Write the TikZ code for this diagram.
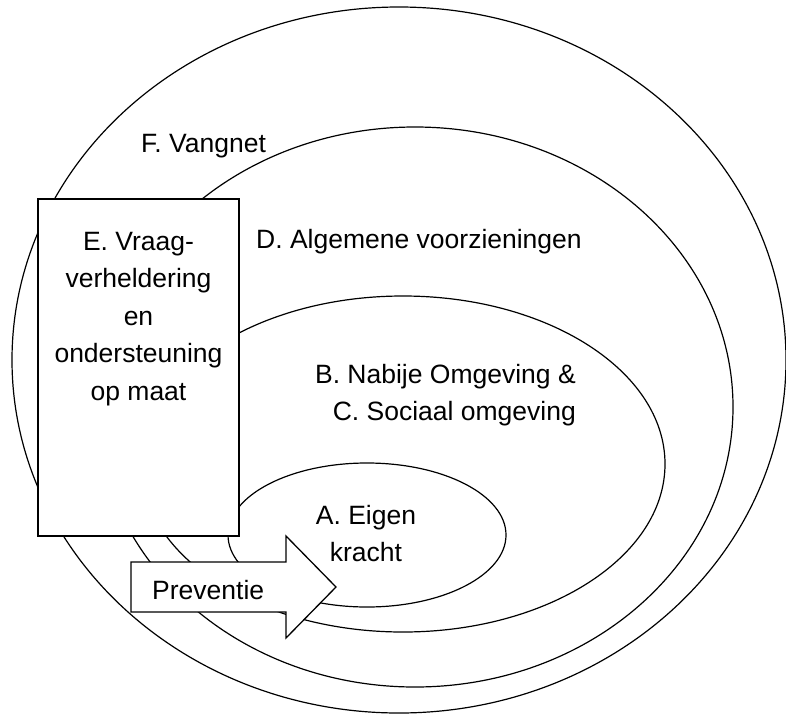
\documentclass[tikz,border=0pt]{standalone}
\usepackage{fontspec}
\setmainfont{Liberation Sans}

\begin{document}
\begin{tikzpicture}[x=1pt,y=-1pt,
  ring/.style={line width=1.2pt},
  lbl/.style={inner sep=0pt,font=\fontsize{26.5}{37.5}\selectfont}]

\useasboundingbox (0,0) rectangle (786,715);

\draw [ring] (399,360) ellipse [x radius=387pt, y radius=353pt];
\draw [ring] (415,407) ellipse [x radius=318pt, y radius=280pt];
\draw [ring] (403,464) ellipse [x radius=262pt, y radius=168pt];
\draw [ring] (367,535) ellipse [x radius=139pt, y radius=72pt];

\draw [line width=1.8pt, fill=white] (38,199) rectangle (239,536);
\draw [line width=1.3pt, fill=white] (131,562) -- (286,562) -- (286,536) -- (336,587)
  -- (286,638) -- (286,612) -- (131,612) -- cycle;

\node (vangnet) at (141,152) [lbl, anchor=base west] {F. Vangnet};
\node (algemeen) at (256,248) [lbl, anchor=base west] {D. Algemene voorzieningen};
\node (nabij) at (576,364) [lbl, anchor=north east, align=right] {B. Nabije Omgeving \&\\C. Sociaal omgeving};
\node (eigen) at (366,505) [lbl, anchor=north, align=center] {A. Eigen\\kracht};
\node (vraag) at (138.5,232) [lbl, anchor=north, align=center] {E. Vraag-\\verheldering\\en\\ondersteuning\\op maat};
\node (preventie) at (152,599) [lbl, anchor=base west] {Preventie};

\end{tikzpicture}
\end{document}
